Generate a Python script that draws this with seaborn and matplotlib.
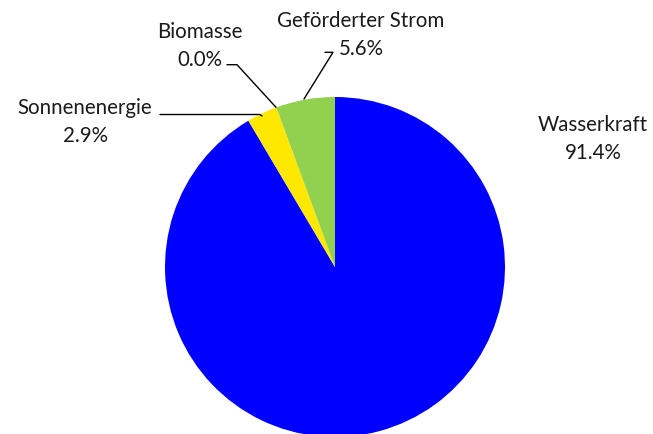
import matplotlib
matplotlib.use("Agg")
import matplotlib.pyplot as plt
import seaborn as sns

sns.set_style("white")
plt.rcParams['font.family'] = ['Lato', 'DejaVu Sans']

# Anteile am Strommix
labels = ['Wasserkraft', 'Sonnenenergie', 'Biomasse', 'Geförderter Strom']
shares = [91.4, 2.9, 0.0, 5.6]
colors = ['#0000FF', '#FFE800', '#808080', '#92D050']

fig = plt.figure(figsize=(6.53, 4.35), dpi=100)
ax = fig.add_axes([0, 0, 1, 1])

H = 435
ax.pie(shares, colors=colors, startangle=90, counterclock=False,
       center=(335, H - 268), radius=170, wedgeprops=dict(linewidth=0))

ax.set_xlim(0, 653)
ax.set_ylim(0, 435)
ax.set_aspect('equal')
ax.axis('off')

# Beschriftungen (Positionen in Pixeln von oben)
txt_pos = {'Wasserkraft': (593, 139), 'Sonnenenergie': (85, 122),
           'Biomasse': (200, 46), 'Geförderter Strom': (361, 35)}
leaders = {'Sonnenenergie': [(160, 115.5), (260, 115.5), (262, 117)],
           'Biomasse': [(227, 65.7), (237, 65.7), (276, 108.3)],
           'Geförderter Strom': [(325, 53.3), (333, 53.3), (304, 100)]}

for lab, val in zip(labels, shares):
    x, y = txt_pos[lab]
    ax.text(x, H - y, f"{lab}\n{val:.1f}%", ha='center', va='center',
            fontsize=14.8, linespacing=1.55, color='#1a1a1a')
    if lab in leaders:
        pts = leaders[lab]
        ax.plot([p[0] for p in pts], [H - p[1] for p in pts], color='black', lw=1)

fig.savefig("out.png", dpi=100)
